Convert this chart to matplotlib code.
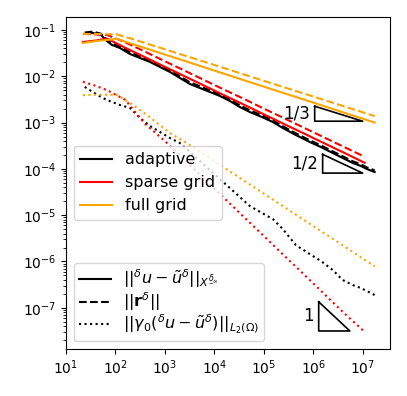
import matplotlib
matplotlib.use("Agg")
import matplotlib.pyplot as plt
from matplotlib.lines import Line2D
from matplotlib.ticker import NullLocator

# adaptive
ad_n = [24, 35, 51, 67, 85, 123, 196, 313, 498, 793, 1262, 2009, 3199, 5093, 8110,
        12912, 20555, 32734, 52120, 91200, 152000, 242100, 442600, 849000, 1419000,
        2477000, 3945000, 6281000, 9120000, 12050000, 17460000]
ad_err = [0.0820, 0.0861, 0.0780, 0.0578, 0.0474, 0.0408, 0.0303, 0.0248, 0.0204, 0.0159,
          0.0124, 0.00919, 0.00682, 0.00558, 0.00458, 0.00376, 0.00293, 0.00217, 0.00169,
          0.00132, 0.00103, 7.64e-4, 5.40e-4, 3.81e-4, 2.97e-4, 2.20e-4, 1.72e-4, 1.34e-4,
          1.16e-4, 9.95e-5, 8.57e-5]
ad_res = [0.088, 0.092, 0.083, 0.062, 0.051, 0.044, 0.0330, 0.0270, 0.0222, 0.0173, 0.0135,
          0.0100, 0.00742, 0.00607, 0.00498, 0.00409, 0.00319, 0.00236, 0.00184, 0.00144,
          0.00112, 8.32e-4, 5.88e-4, 4.15e-4, 3.23e-4, 2.39e-4, 1.87e-4, 1.46e-4, 1.26e-4,
          1.08e-4, 9.3e-5]
ad_l2 = [5.87e-3, 4.58e-3, 3.57e-3, 3.08e-3, 2.79e-3, 2.40e-3, 2.07e-3, 1.26e-3, 8.45e-4,
         6.27e-4, 4.65e-4, 3.62e-4, 2.32e-4, 1.48e-4, 9.47e-5, 6.05e-5, 3.87e-5, 2.47e-5,
         1.58e-5, 1.12e-5, 8.28e-6, 5.04e-6, 2.27e-6, 1.45e-6, 1.03e-6, 6.55e-7, 3.98e-7,
         3.10e-7, 2.68e-7, 2.31e-7, 1.89e-7]

# sparse grid
sg_n = [22, 40, 68, 158, 398, 1000, 2510, 6300, 15800, 39800, 100000, 251000, 631000,
        1580000, 3980000, 11000000]
sg_err = [0.055, 0.059, 0.065, 0.0412, 0.0257, 0.016, 0.01, 0.00624, 0.00389, 0.00243,
          0.00151, 9.4e-4, 5.9e-4, 3.67e-4, 2.29e-4, 1.35e-4]
sg_res = [0.082, 0.080, 0.078, 0.054, 0.0339, 0.0211, 0.0132, 0.00822, 0.00513, 0.00324,
          0.002, 0.00126, 7.83e-4, 4.9e-4, 3.05e-4, 1.82e-4]
sg_l2 = [7.6e-3, 6.2e-3, 5.0e-3, 3.1e-3, 9.3e-4, 4.0e-4, 1.55e-4, 6.0e-5, 2.34e-5, 9.1e-6,
         3.55e-6, 1.38e-6, 5.4e-7, 2.1e-7, 8.1e-8, 3.0e-8]

# full grid
fg_n = [22, 42, 107, 226, 433, 1259, 2535, 10230, 41300, 166700, 673000, 2716000, 17460000]
fg_err = [0.0524, 0.0578, 0.064, 0.0493, 0.0394, 0.0272, 0.0214, 0.01315, 0.0081, 0.0050,
          0.0031, 0.0019, 0.001]
fg_res = [0.082, 0.082, 0.080, 0.0635, 0.0508, 0.0354, 0.0279, 0.0174, 0.0108, 0.0067,
          0.00417, 0.0026, 0.00138]
fg_l2 = [3.9e-3, 4.0e-3, 3.95e-3, 2.4e-3, 1.46e-3, 5.96e-4, 3.81e-4, 1.44e-4, 5.42e-5,
         2.04e-5, 7.67e-6, 2.9e-6, 7.87e-7]

# slope triangles: (x left, x right, y bottom, slope, label)
triangles = [
    (1.07e6, 1.0e7, 1.07e-3, 1 / 3, "1/3"),
    (1.55e6, 1.0e7, 8.1e-5, 1 / 2, "1/2"),
    (1.29e6, 5.5e6, 3.16e-8, 1.0, "1"),
]

series = [
    ("adaptive", "black", ad_n, ad_err, ad_res, ad_l2),
    ("sparse grid", "red", sg_n, sg_err, sg_res, sg_l2),
    ("full grid", "orange", fg_n, fg_err, fg_res, fg_l2),
]

fig = plt.figure(figsize=(4.07, 3.96), dpi=100)
ax = fig.add_axes([0.162, 0.1187, 0.796, 0.8383])

for name, col, n, err, res, l2 in series:
    ax.loglog(n, err, "-", color=col, lw=1.5)
    ax.loglog(n, res, "--", color=col, lw=1.5)
    ax.loglog(n, l2, ":", color=col, lw=1.5)

for x0, x1, yb, s, lab in triangles:
    yt = yb * (x1 / x0) ** s
    ax.plot([x0, x0, x1, x0], [yt, yb, yb, yt], color="black", lw=1.2)
    ax.text(x0 / 1.25, (yb * yt) ** 0.5, lab, ha="right", va="center", fontsize=12)

ax.set_xlim(10, 3.55e7)
ax.set_ylim(1.29e-8, 0.19)
ax.xaxis.set_minor_locator(NullLocator())

h1 = [Line2D([], [], color=c, lw=1.5) for _, c, *_ in series]
leg1 = ax.legend(h1, [s[0] for s in series], loc="upper left",
                 bbox_to_anchor=(0.0, 0.636), fontsize=11.5)
ax.add_artist(leg1)

h2 = [Line2D([], [], color="black", ls=ls, lw=1.5) for ls in ["-", "--", ":"]]
labels2 = [r"$||^\delta u - \tilde{u}^\delta||_{X^{\underset{-}{\delta}_\infty}}$",
           r"$||\mathbf{r}^\delta||$",
           r"$||\gamma_0(^\delta u - \tilde{u}^\delta)||_{L_2(\Omega)}$"]
ax.legend(h2, labels2, loc="lower left", fontsize=11.5, labelspacing=0.0,
          borderpad=0.3)

fig.savefig("out.png", dpi=100)
